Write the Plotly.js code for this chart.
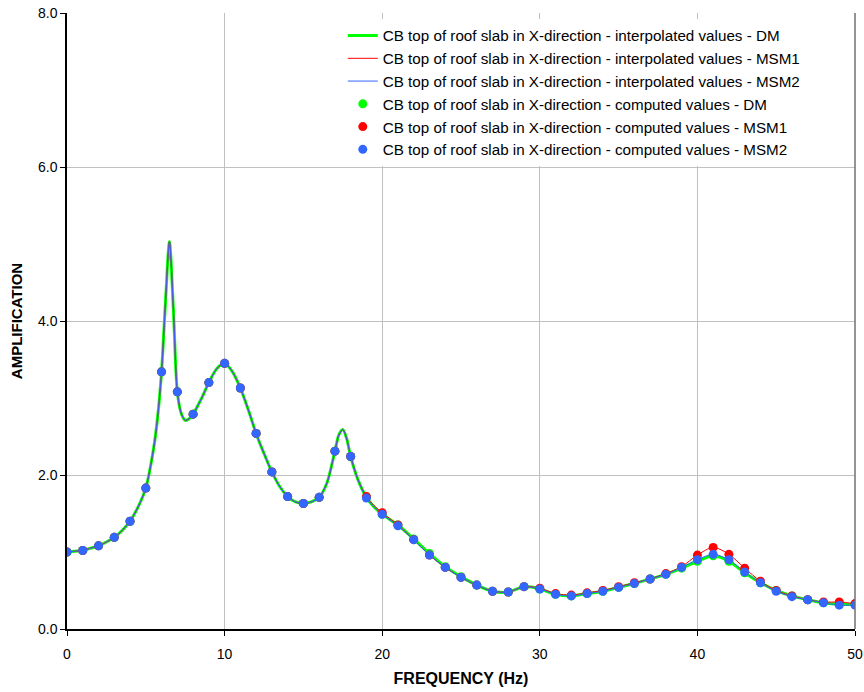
<!DOCTYPE html>
<html><head><meta charset="utf-8">
<script src="https://cdn.plot.ly/plotly-3.0.1.min.js"></script>
<style>body{margin:0;background:#fff}#chart{width:864px;height:692px}</style>
</head><body><div id="chart"></div>
<script>
// Computed values at integer frequencies (Hz)
const freqComputed = [0,1,2,3,4,5,6,7,8,9,10,11,12,13,14,15,16,17,18,19,20,21,22,23,24,25,26,27,28,29,30,31,32,33,34,35,36,37,38,39,40,41,42,43,44,45,46,47,48,49,50];
const dmComputed   = [1.00,1.02,1.08,1.19,1.40,1.83,3.34,3.08,2.79,3.20,3.45,3.13,2.54,2.04,1.72,1.63,1.71,2.31,2.24,1.71,1.49,1.35,1.17,0.98,0.81,0.68,0.57,0.49,0.48,0.55,0.52,0.45,0.43,0.46,0.49,0.54,0.59,0.65,0.71,0.79,0.88,0.95,0.88,0.73,0.60,0.50,0.43,0.38,0.34,0.32,0.32];
const msm1Computed = [1.00,1.02,1.08,1.19,1.40,1.83,3.34,3.08,2.79,3.20,3.45,3.13,2.54,2.04,1.72,1.63,1.71,2.31,2.24,1.72,1.51,1.35,1.16,0.96,0.80,0.67,0.57,0.49,0.48,0.55,0.53,0.46,0.44,0.47,0.50,0.55,0.60,0.65,0.72,0.81,0.96,1.06,0.97,0.79,0.62,0.50,0.43,0.38,0.35,0.35,0.33];
const msm2Computed = [1.00,1.02,1.08,1.19,1.40,1.83,3.34,3.08,2.79,3.20,3.45,3.13,2.54,2.04,1.72,1.63,1.71,2.31,2.24,1.70,1.49,1.34,1.16,0.96,0.80,0.67,0.57,0.49,0.48,0.55,0.52,0.45,0.43,0.46,0.49,0.54,0.59,0.65,0.71,0.80,0.90,0.97,0.90,0.74,0.60,0.49,0.42,0.38,0.34,0.31,0.31];

// Interpolated curves
const freqInterp = [0,0.5,1,1.5,2,2.5,3,3.5,4,4.5,5,5.5,5.75,6,6.25,6.5,6.75,7,7.25,7.5,7.75,8,8.5,9,9.5,10,10.5,11,11.5,12,12.5,13,13.5,14,14.5,15,15.5,16,16.5,17,17.25,17.5,17.75,18,18.5,19,19.5,20,21,22,23,24,25,26,27,28,29,30,31,32,33,34,35,36,37,38,39,40,41,42,43,44,45,46,47,48,49,50];
const dmInterp   = [1.00,1.01,1.02,1.05,1.08,1.13,1.19,1.28,1.40,1.58,1.83,2.35,2.75,3.34,4.25,5.03,4.15,3.08,2.80,2.71,2.73,2.79,2.98,3.20,3.38,3.45,3.34,3.13,2.85,2.54,2.28,2.04,1.85,1.72,1.65,1.63,1.65,1.71,1.90,2.31,2.52,2.59,2.47,2.24,1.92,1.71,1.58,1.49,1.35,1.17,0.98,0.81,0.68,0.57,0.49,0.48,0.55,0.52,0.45,0.43,0.46,0.49,0.54,0.59,0.65,0.71,0.79,0.88,0.95,0.88,0.73,0.60,0.50,0.43,0.38,0.34,0.32,0.32];
const msm1Interp = [1.00,1.01,1.02,1.05,1.08,1.13,1.19,1.28,1.40,1.58,1.83,2.35,2.75,3.34,4.25,5.03,4.15,3.08,2.80,2.71,2.73,2.79,2.98,3.20,3.38,3.45,3.34,3.13,2.85,2.54,2.28,2.04,1.85,1.72,1.65,1.63,1.65,1.71,1.90,2.31,2.52,2.59,2.47,2.24,1.92,1.72,1.60,1.51,1.35,1.16,0.96,0.80,0.67,0.57,0.49,0.48,0.55,0.53,0.46,0.44,0.47,0.50,0.55,0.60,0.65,0.72,0.81,0.96,1.06,0.97,0.79,0.62,0.50,0.43,0.38,0.35,0.35,0.33];
const msm2Interp = [1.00,1.01,1.02,1.05,1.08,1.13,1.19,1.28,1.40,1.58,1.83,2.35,2.75,3.34,4.25,5.03,4.15,3.08,2.80,2.71,2.73,2.79,2.98,3.20,3.38,3.45,3.34,3.13,2.85,2.54,2.28,2.04,1.85,1.72,1.65,1.63,1.65,1.71,1.90,2.31,2.52,2.59,2.47,2.24,1.92,1.70,1.58,1.49,1.34,1.16,0.96,0.80,0.67,0.57,0.49,0.48,0.55,0.52,0.45,0.43,0.46,0.49,0.54,0.59,0.65,0.71,0.80,0.90,0.97,0.90,0.74,0.60,0.49,0.42,0.38,0.34,0.31,0.31];

const seriesNames = ['DM','MSM1','MSM2'];
const colors = ['#00ff00','#ff0000','#3366ff'];
const lineWidths = [3,1,1];
const interpData = [dmInterp, msm1Interp, msm2Interp];
const compData = [dmComputed, msm1Computed, msm2Computed];
const prefix = 'CB top of roof slab in X-direction - ';

const traces = [];
for (let i=0;i<3;i++){
  traces.push({x:freqInterp,y:interpData[i],type:'scatter',mode:'lines',
    name:prefix+'interpolated values - '+seriesNames[i],
    line:{color:colors[i],width:lineWidths[i],shape:'spline',smoothing:0.8}});
}
for (let i=0;i<3;i++){
  traces.push({x:freqComputed,y:compData[i],type:'scatter',mode:'markers',
    name:prefix+'computed values - '+seriesNames[i],
    marker:{color:colors[i],size:9}});
}

const fam = '"Liberation Sans", Arial, sans-serif';
const layout = {
  width:864,height:692,
  margin:{l:67,r:9,t:13,b:63},
  paper_bgcolor:'#fff',plot_bgcolor:'#fff',
  font:{family:fam,color:'#000',size:14},
  showlegend:true,
  legend:{x:0.35,y:0.99,xanchor:'left',yanchor:'top',bgcolor:'#fff',font:{size:15.2,family:fam,color:'#000'},
    itemwidth:30,tracegroupgap:0},
  shapes:[{type:'line',xref:'paper',yref:'paper',x0:1,x1:1,y0:0,y1:1,line:{color:'#707070',width:1.5}}],
  xaxis:{range:[0,50],dtick:10,tick0:0,showgrid:true,gridcolor:'#c0c0c0',gridwidth:1,
    showline:true,linecolor:'#000',linewidth:1.5,ticks:'outside',ticklen:5,tickcolor:'#000',
    ticklabelstandoff:6,tickfont:{size:14,family:fam},
    zeroline:false,mirror:false,
    title:{text:'<b>FREQUENCY (Hz)</b>',font:{size:16,family:fam},standoff:12}},
  yaxis:{range:[0,8],dtick:2,tick0:0,tickformat:'.1f',showgrid:true,gridcolor:'#c0c0c0',gridwidth:1,
    showline:true,linecolor:'#000',linewidth:1.5,ticks:'outside',ticklen:5,tickcolor:'#000',
    tickfont:{size:14,family:fam},
    zeroline:false,
    title:{text:'<b>AMPLIFICATION</b>',font:{size:15,family:fam},standoff:12}}
};
Plotly.newPlot('chart',traces,layout,{displayModeBar:false});
</script></body></html>
